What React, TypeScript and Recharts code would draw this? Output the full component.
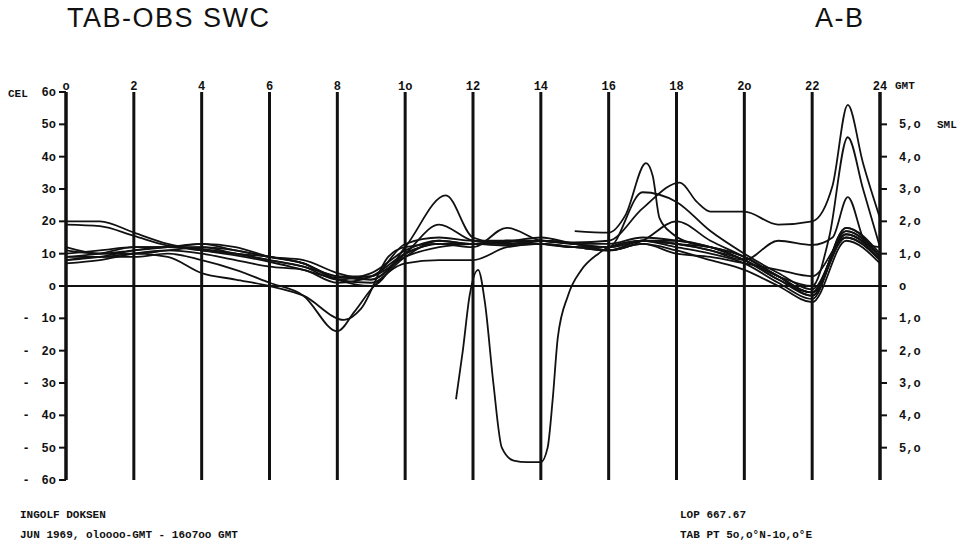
import React from 'react';
import {
  LineChart, Line, XAxis, YAxis, CartesianGrid, ReferenceLine,
} from 'recharts';

// hour ticks along the top, as printed on the sheet
const hourTicks = [0, 2, 4, 6, 8, 10, 12, 14, 16, 18, 20, 22, 24];
const hourLabels = ['o', '2', '4', '6', '8', '1o', '12', '14', '16', '18', '2o', '22', '24'];

// left scale (CEL) and right scale (SML)
const celTicks = [-60, -50, -40, -30, -20, -10, 0, 10, 20, 30, 40, 50, 60];
const celLabels = ['6o', '5o', '4o', '3o', '2o', '1o', 'o', '1o', '2o', '3o', '4o', '5o', '6o'];
const smlTicks = [-50, -40, -30, -20, -10, 0, 10, 20, 30, 40, 50];
const smlLabels = ['5,o', '4,o', '3,o', '2,o', '1,o', 'o', '1,o', '2,o', '3,o', '4,o', '5,o'];

// [hour, value]
const s1 = [[0, 20], [1, 20], [2, 16.5], [3, 13], [4, 11], [5, 9.5], [6, 7.5], [7, 5], [8, 2.5], [9, 3], [10, 9], [11, 12], [12, 13], [13, 13.5], [14, 14], [15, 13.5], [16, 14], [17, 24], [18.1, 32], [18.6, 26], [19, 23], [20, 23], [21, 19], [22, 20], [22.6, 31], [23.05, 56], [23.5, 38], [24, 21]];
const s2 = [[0, 19], [1, 18.5], [2, 15.5], [3, 12.5], [4, 11.5], [5, 10], [6, 8], [7, 6], [8, 3], [9, 2], [10, 10], [11, 19], [12, 14], [13, 13], [14, 14], [15, 13], [16, 12], [17, 29], [18, 26], [19, 17], [20, 10], [21, 4], [22, -1], [23, 16], [24, 9]];
const s3 = [[0, 12], [1, 10], [2, 11], [3, 12], [4, 13], [5, 12], [6, 9], [7, 7], [8, 2], [9, 0], [10, 12], [11.2, 28], [12, 15], [13, 13], [14, 13], [15, 12], [16, 11], [17, 14], [18, 20], [19, 14], [20, 9], [21, 3], [22, -3], [23, 18], [24, 10]];
const s4 = [[0, 9], [1, 9], [2, 10], [3, 9], [4, 4], [5, 2], [6, 0], [7, -3], [8.2, -10.5], [8.7, -7], [9.5, 9], [10, 12], [11, 13], [12, 13], [13, 12.5], [14, 13], [15, 12], [16, 12], [17, 14], [18, 13], [19, 11], [20, 8], [21, 14], [22, 12.7], [22.6, 15], [23.05, 27.5], [23.6, 13], [24, 12]];
const s5 = [[0, 8], [1, 9], [2, 9], [3, 10], [4, 8], [5, 5], [6, 1], [7, -3], [8, -14], [8.5, -8], [9, -1], [10, 7], [11, 8], [12, 8], [13, 12], [14, 13], [15, 12], [16, 11], [17, 13], [18, 11], [19, 8], [20, 5], [21, 0], [22, -5], [23, 14], [24, 7]];
const s6 = [[0, 7], [1, 8], [2, 10], [3, 11], [4, 10], [5, 8], [6, 6], [7, 5], [8, 1], [9, 3], [10, 10], [11, 13], [12, 12], [13, 18], [14, 14], [15, 13], [16, 11], [17, 14], [18, 14], [19, 12], [20, 8], [21, 3], [22, 0], [22.5, 15], [23.05, 46], [23.5, 30], [24, 12]];
const s7 = [[0, 10], [1, 11], [2, 12], [3, 12], [4, 11], [5, 10], [6, 9], [7, 7], [8, 3], [9, 3], [10, 13], [11, 15], [12, 14], [13, 14], [14, 15], [15, 13], [16, 12], [17, 14], [18, 13], [19, 12], [20, 9], [21, 3], [22, -2], [23, 17], [24, 9]];
const s8 = [[0, 8], [1, 9], [2, 11], [3, 12], [4, 12], [5, 10], [6, 8], [7, 6], [8, 2], [9, 4], [10, 11], [11, 14], [12, 13], [13, 14], [14, 14], [15, 13], [16, 13], [17, 15], [18, 14], [19, 12], [20, 8], [21, 2], [22, -3], [23, 16], [24, 8]];
const s9 = [[0, 11], [1, 10], [2, 10], [3, 11], [4, 12], [5, 11], [6, 9], [7, 8], [8, 4], [9, 2], [10, 10], [11, 13], [12, 13], [13, 13], [14, 14], [15, 13], [16, 11], [17, 13], [18, 10], [19, 9], [20, 7], [21, 5], [22, 3], [23, 15], [24, 8]];
const s10 = [[0, 9], [1, 10], [2, 12], [3, 12], [4, 13], [5, 11], [6, 9], [7, 7], [8, 2], [9, 1], [10, 9], [11, 14], [12, 13], [13, 14], [14, 13], [15, 12], [16, 12], [17, 14], [18, 12], [19, 10], [20, 7], [21, 1], [22, -4], [23, 18], [24, 9]];
const dip = [[11.5, -35], [11.7, -20], [11.9, -3], [12.15, 5], [12.35, -5], [12.6, -30], [12.85, -50], [13.2, -54], [13.6, -54.5], [14, -54.5], [14.2, -50], [14.35, -35], [14.5, -16], [14.8, -3], [15.2, 5], [15.7, 10], [16, 12], [17, 14], [18, 13], [19, 11], [20, 8], [21, 2], [22, -2], [23, 17], [24, 9]];
const spike17 = [[15, 17], [16, 16.5], [16.5, 22], [17.1, 38], [17.3, 34], [17.5, 21], [17.9, 16], [18.5, 13], [19, 12], [20, 9], [21, 3], [22, -2], [23, 15], [24, 8]];

// CEL-scale traces and the ones read against the SML scale (same span)
const celTraces = [s1, s2, s3, s4, s5, s6, s7, s8, s9, s10];
const smlTraces = [dip, spike17];

const rows = (pts: number[][]) => pts.map(([h, v]) => ({ h, v }));

const tickFont = { fontFamily: '"Liberation Mono", monospace', fontWeight: 700, fontSize: 12, fill: '#111' };

const LeftTick = ({ x, y, payload }: any) => {
  const i = celTicks.indexOf(payload.value);
  return (
    <g>
      {payload.value < 0 && <text x={26} y={y + 4} textAnchor="middle" {...tickFont}>-</text>}
      <text x={x - 1} y={y + 4} textAnchor="end" {...tickFont}>{celLabels[i]}</text>
    </g>
  );
};

const RightTick = ({ x, y, payload }: any) => {
  const i = smlTicks.indexOf(payload.value);
  return <text x={x + 10} y={y + 4} textAnchor="start" {...tickFont}>{smlLabels[i]}</text>;
};

const TopTick = ({ x, y, payload }: any) => {
  const i = hourTicks.indexOf(payload.value);
  return <text x={x} y={y + 6} textAnchor="middle" {...tickFont}>{hourLabels[i]}</text>;
};

const label = (left: number, top: number): React.CSSProperties => ({
  position: 'absolute', left, top, fontSize: 11, whiteSpace: 'pre',
  fontFamily: '"Liberation Mono", monospace', fontWeight: 700, color: '#111',
});

const titleStyle = (left: number): React.CSSProperties => ({
  position: 'absolute', left, top: 3, fontSize: 27, letterSpacing: 1.5,
  fontFamily: '"Liberation Sans", sans-serif', color: '#111',
});

export default function App() {
  return (
    <div style={{ position: 'absolute', left: 0, top: 0, width: 968, height: 547, background: '#fff' }}>
      <div style={titleStyle(67)}>TAB-OBS SWC</div>
      <div style={titleStyle(815)}>A-B</div>
      <LineChart width={968} height={547} margin={{ top: 72, right: 8, bottom: 67, left: 6 }}>
        <CartesianGrid xAxisId="h" yAxisId="cel" horizontal={false} stroke="#111" strokeWidth={3} />
        <XAxis
          xAxisId="h"
          dataKey="h"
          type="number"
          orientation="top"
          domain={[0, 24]}
          ticks={hourTicks}
          height={20}
          axisLine={false}
          tickLine={false}
          tick={<TopTick />}
          allowDuplicatedCategory={false}
        />
        <YAxis
          yAxisId="cel"
          domain={[-60, 60]}
          ticks={celTicks}
          width={60}
          axisLine={{ stroke: '#111', strokeWidth: 3 }}
          tickLine={{ stroke: '#111', strokeWidth: 2 }}
          tickSize={7}
          tick={<LeftTick />}
          allowDataOverflow
        />
        <YAxis
          yAxisId="sml"
          orientation="right"
          domain={[-60, 60]}
          ticks={smlTicks}
          width={80}
          axisLine={{ stroke: '#111', strokeWidth: 3 }}
          tickLine={{ stroke: '#111', strokeWidth: 2 }}
          tickSize={7}
          tick={<RightTick />}
          allowDataOverflow
        />
        <ReferenceLine xAxisId="h" yAxisId="cel" y={0} stroke="#111" strokeWidth={2} />
        {celTraces.map((t, i) => (
          <Line
            key={'c' + i}
            xAxisId="h"
            yAxisId="cel"
            data={rows(t)}
            dataKey="v"
            type="monotone"
            stroke="#111"
            strokeWidth={1.8}
            dot={false}
            isAnimationActive={false}
          />
        ))}
        {smlTraces.map((t, i) => (
          <Line
            key={'s' + i}
            xAxisId="h"
            yAxisId="sml"
            data={rows(t)}
            dataKey="v"
            type="monotone"
            stroke="#111"
            strokeWidth={1.8}
            dot={false}
            isAnimationActive={false}
          />
        ))}
      </LineChart>
      <div style={label(8, 88)}>CEL</div>
      <div style={label(895, 80)}>GMT</div>
      <div style={label(937, 119)}>SML</div>
      <div style={label(20, 509)}>INGOLF DOKSEN</div>
      <div style={label(20, 529)}>JUN 1969, oloooo-GMT - 16o7oo GMT</div>
      <div style={label(680, 509)}>LOP 667.67</div>
      <div style={label(680, 529)}>TAB PT 5o,o°N-1o,o°E</div>
    </div>
  );
}
